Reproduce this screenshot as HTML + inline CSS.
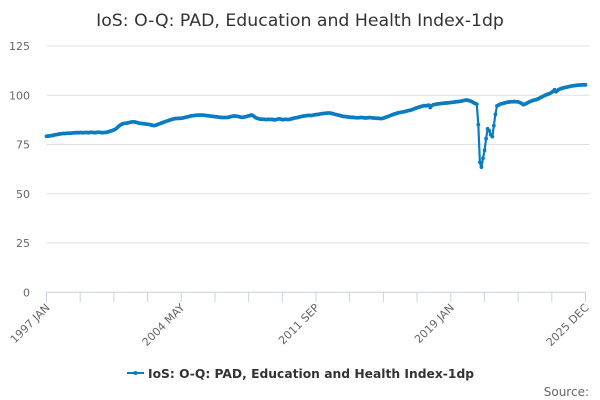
<!DOCTYPE html>
<html><head><meta charset="utf-8"><style>
body{margin:0;background:#fff;font-family:"DejaVu Sans","Liberation Sans",sans-serif;}
svg{display:block}
text{font-family:"DejaVu Sans","Liberation Sans",sans-serif;}
</style></head><body>
<svg id="chart" width="600" height="400" xmlns="http://www.w3.org/2000/svg">
<text x="300" y="26" text-anchor="middle" font-size="17.3" fill="#333">IoS: O-Q: PAD, Education and Health Index-1dp</text>
<g id="grid"></g>
<g id="yaxis"></g>
<g id="xaxis"></g>
<g id="series"></g>
<g>
<line x1="127" y1="373" x2="144" y2="373" stroke="#0a7cc2" stroke-width="2"/>
<circle cx="135.5" cy="373" r="2" fill="#0a7cc2"/>
<text x="148" y="378" font-size="12.3" font-weight="bold" fill="#333">IoS: O-Q: PAD, Education and Health Index-1dp</text>
</g>
<text x="589" y="396" text-anchor="end" font-size="12" fill="#666">Source:</text>
</svg>
<script>
const values=[
79.2,79.3,79.3,79.5,79.6,79.8,80.0,80.1,80.3,80.4,80.5,80.6,
80.6,80.7,80.7,80.8,80.8,80.9,80.9,81.0,81.0,81.0,81.1,81.0,
81.0,81.1,81.1,81.0,81.1,81.2,81.1,81.0,81.1,81.2,81.2,81.1,
81.0,81.1,81.1,81.3,81.5,81.8,82.0,82.3,82.6,83.2,83.9,84.6,
85.1,85.5,85.7,85.8,85.9,86.1,86.3,86.5,86.5,86.4,86.2,86.0,
85.8,85.7,85.6,85.5,85.4,85.3,85.2,85.0,84.8,84.6,84.7,85.0,
85.3,85.6,85.9,86.2,86.5,86.8,87.0,87.3,87.6,87.8,88.0,88.2,
88.2,88.3,88.3,88.4,88.5,88.7,88.9,89.1,89.3,89.5,89.6,89.7,
89.8,89.9,89.9,90.0,89.9,89.9,89.8,89.7,89.6,89.5,89.4,89.3,
89.2,89.1,89.0,88.9,88.8,88.7,88.7,88.7,88.7,88.8,89.0,89.2,
89.4,89.5,89.4,89.3,89.1,88.9,88.8,88.9,89.1,89.3,89.5,89.7,
90.0,89.6,89.0,88.5,88.2,88.0,87.9,87.8,87.8,87.7,87.7,87.8,
87.7,87.8,87.6,87.5,87.7,87.9,88.0,87.8,87.6,87.7,87.8,87.7,
87.7,87.9,88.1,88.3,88.5,88.6,88.8,89.0,89.2,89.4,89.5,89.6,
89.7,89.8,89.7,89.8,90.0,90.1,90.2,90.3,90.5,90.6,90.7,90.8,
90.9,91.0,91.0,90.9,90.7,90.5,90.3,90.1,89.9,89.7,89.5,89.3,
89.2,89.1,89.0,88.9,88.8,88.8,88.7,88.6,88.6,88.6,88.7,88.7,
88.6,88.5,88.5,88.6,88.7,88.6,88.5,88.4,88.4,88.3,88.3,88.2,
88.2,88.4,88.7,89.0,89.3,89.6,89.9,90.2,90.5,90.7,91.0,91.2,
91.3,91.5,91.6,91.8,92.0,92.2,92.4,92.6,92.9,93.2,93.5,93.8,
94.0,94.3,94.5,94.7,94.6,94.8,95.0,93.8,94.7,95.2,95.3,95.5,
95.6,95.7,95.8,95.9,96.0,96.1,96.1,96.2,96.3,96.4,96.5,96.6,
96.7,96.8,96.9,97.0,97.2,97.4,97.6,97.5,97.3,97.0,96.7,96.2,
95.8,95.5,85.1,66.0,63.5,68.0,72.0,78.0,83.0,82.0,80.0,79.0,
84.6,90.3,94.6,95.0,95.5,95.7,95.9,96.1,96.3,96.5,96.6,96.7,
96.7,96.8,96.7,96.7,96.5,96.2,95.8,95.2,95.5,95.9,96.3,96.7,
97.0,97.3,97.6,97.7,98.0,98.4,98.8,99.2,99.6,100.0,100.3,100.6,
100.9,101.4,101.9,102.8,101.8,102.5,103.0,103.3,103.6,103.8,104.0,104.1,
104.3,104.5,104.7,104.8,104.9,105.0,105.1,105.2,105.2,105.3,105.3,105.3];
const yTicks=[0,25,50,75,100,125];
const xLabels=["1997 JAN","2004 MAY","2011 SEP","2019 JAN","2025 DEC"];
const NS="http://www.w3.org/2000/svg";
const X0=46.5,X1=585.5,Y0=292.3,Y125=46;
const n=values.length;
function xs(i){return X0+i*(X1-X0)/(n-1);}
function ys(v){return Y0-v*(Y0-Y125)/125;}
function mk(t,a,p){const e=document.createElementNS(NS,t);for(const k in a)e.setAttribute(k,a[k]);p.appendChild(e);return e;}
const grid=document.getElementById('grid'),ya=document.getElementById('yaxis'),xa=document.getElementById('xaxis'),se=document.getElementById('series');
yTicks.forEach(v=>{
  if(v>0){const g=mk('line',{x1:X0,x2:X1+4,y1:ys(v),y2:ys(v),stroke:'#e0e0e0','stroke-width':1},grid);
  
  }
  const t=mk('text',{x:30,y:ys(v)+4,'text-anchor':'end','font-size':11,fill:'#666'},ya);
  
  
  t.textContent=v;
});
mk('line',{x1:X0,x2:X1,y1:Y0,y2:Y0,stroke:'#c6d4e6','stroke-width':1},xa);
for(let k=0;k<=16;k++){
  const x=X0+k*(X1-X0)/16;
  const tk=mk('line',{x1:x,x2:x,y1:Y0,y2:Y0+10,stroke:'#c6d4e6','stroke-width':1},xa);
  
  
  if(k%4===0){
    const t=mk('text',{x:x+4,y:Y0+16,'text-anchor':'end','font-size':11,fill:'#666',transform:'rotate(-45 '+(x+4)+' '+(Y0+16)+')'},xa);
    
    
    t.textContent=xLabels[k/4];
  }
}
const d=values.map((v,i)=>(i?'L':'M')+xs(i).toFixed(2)+' '+ys(v).toFixed(2)).join(' ');
const p=mk('path',{d:d,fill:'none',stroke:'#0a7cc2','stroke-width':2.2,'stroke-linejoin':'round'},se);


values.forEach((v,i)=>{
  const c=mk('circle',{cx:xs(i),cy:ys(v),r:1.9,fill:'#0a7cc2'},se);
  
  
});
</script>
</body></html>
